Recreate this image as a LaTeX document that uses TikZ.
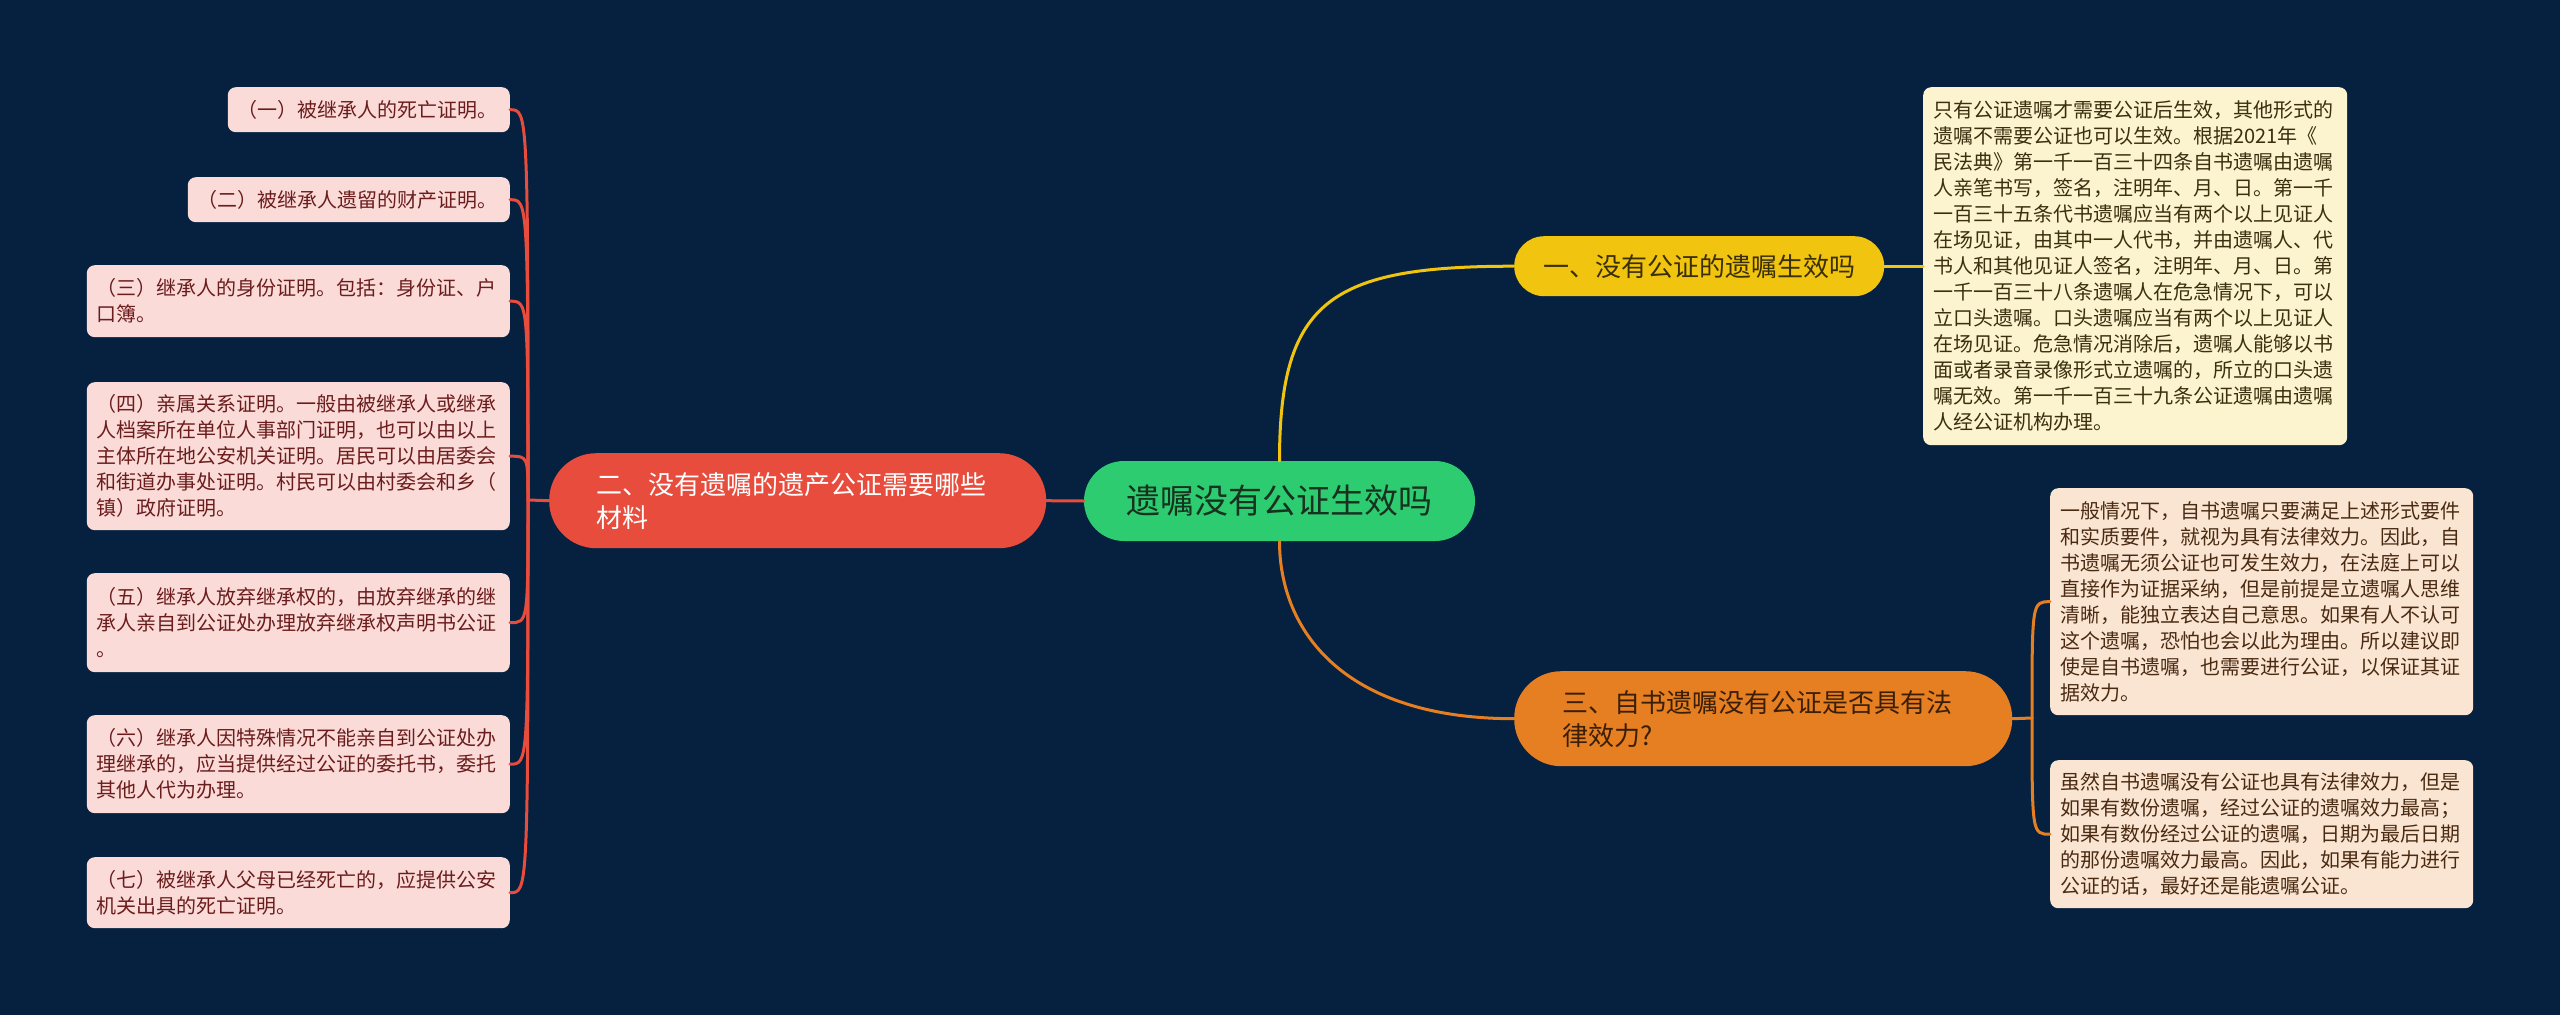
\documentclass[tikz,border=0pt]{standalone}
\usepackage{fontspec}
\setmainfont{Noto Sans CJK SC}
\definecolor{bg}{HTML}{05213F}
\definecolor{cgreen}{HTML}{2ECC71}
\definecolor{cred}{HTML}{E74C3C}
\definecolor{cyel}{HTML}{F1C40F}
\definecolor{corg}{HTML}{E67E22}
\definecolor{cpink}{HTML}{FADBD8}
\definecolor{ccream}{HTML}{FCF3CF}
\definecolor{cpeach}{HTML}{FAE5D3}
\definecolor{tgreen}{HTML}{17321F}
\definecolor{tyel}{HTML}{3B2F05}
\definecolor{torg}{HTML}{3B1F05}
\definecolor{tpink}{HTML}{6B1D1D}
\definecolor{tcream}{HTML}{3A3010}
\definecolor{tpeach}{HTML}{4A2B12}
\begin{document}
\begin{tikzpicture}[x=1pt,y=-1pt,
  rootbox/.style={fill=cgreen, text=tgreen, rounded corners=40pt, minimum width=391pt, minimum height=80pt, inner sep=0pt, font=\fontsize{34}{40}\selectfont},
  mainbox/.style={inner ysep=0pt, align=left, anchor=north west, font=\fontsize{26}{33}\selectfont},
  leafbox/.style={rounded corners=8pt, inner xsep=10pt, inner ysep=0pt, align=left, font=\fontsize{20}{26}\selectfont},
  pinkleaf/.style={leafbox, fill=cpink, text=tpink, anchor=north east},
  creamleaf/.style={leafbox, fill=ccream, text=tcream, anchor=north west},
  peachleaf/.style={leafbox, fill=cpeach, text=tpeach, anchor=north west},
  conn/.style={line width=3pt, line cap=round}
]
\fill[bg] (0,0) rectangle (2560,1015);
\useasboundingbox (0,0) rectangle (2560,1015);

% central node
\node[rootbox] (root) at (1279.5,501) {遗嘱没有公证生效吗};

% main branches
\node[mainbox, fill=cred, text=white, rounded corners=47pt, text width=403pt, inner xsep=47pt, minimum height=95pt] (b2) at (549,453) {二、没有遗嘱的遗产公证需要哪些\\材料};
\node[mainbox, fill=cyel, text=tyel, rounded corners=30pt, minimum width=370pt, minimum height=60pt, inner xsep=0pt, align=center] (b1) at (1514,236) {一、没有公证的遗嘱生效吗};
\node[mainbox, fill=corg, text=torg, rounded corners=47pt, text width=402pt, inner xsep=48pt, minimum height=95pt] (b3) at (1514,671) {三、自书遗嘱没有公证是否具有法\\律效力?};

% right leaves
\node[creamleaf, text width=404pt, minimum height=358pt] (c1) at (1923,87) {只有公证遗嘱才需要公证后生效，其他形式的\\遗嘱不需要公证也可以生效。根据2021年《\\民法典》第一千一百三十四条自书遗嘱由遗嘱\\人亲笔书写，签名，注明年、月、日。第一千\\一百三十五条代书遗嘱应当有两个以上见证人\\在场见证，由其中一人代书，并由遗嘱人、代\\书人和其他见证人签名，注明年、月、日。第\\一千一百三十八条遗嘱人在危急情况下，可以\\立口头遗嘱。口头遗嘱应当有两个以上见证人\\在场见证。危急情况消除后，遗嘱人能够以书\\面或者录音录像形式立遗嘱的，所立的口头遗\\嘱无效。第一千一百三十九条公证遗嘱由遗嘱\\人经公证机构办理。};
\node[peachleaf, text width=403pt, minimum height=227pt] (p1) at (2050,488) {一般情况下，自书遗嘱只要满足上述形式要件\\和实质要件，就视为具有法律效力。因此，自\\书遗嘱无须公证也可发生效力，在法庭上可以\\直接作为证据采纳，但是前提是立遗嘱人思维\\清晰，能独立表达自己意思。如果有人不认可\\这个遗嘱，恐怕也会以此为理由。所以建议即\\使是自书遗嘱，也需要进行公证，以保证其证\\据效力。};
\node[peachleaf, text width=403pt, minimum height=148pt] (p2) at (2050,760) {虽然自书遗嘱没有公证也具有法律效力，但是\\如果有数份遗嘱，经过公证的遗嘱效力最高；\\如果有数份经过公证的遗嘱，日期为最后日期\\的那份遗嘱效力最高。因此，如果有能力进行\\公证的话，最好还是能遗嘱公证。};

% left leaves
\node[pinkleaf, text width=262pt, minimum height=45pt] (l1) at (510,87) {（一）被继承人的死亡证明。};
\node[pinkleaf, text width=302pt, minimum height=45pt] (l2) at (510,177) {（二）被继承人遗留的财产证明。};
\node[pinkleaf, text width=403pt, minimum height=72pt] (l3) at (510,265) {（三）继承人的身份证明。包括：身份证、户\\口簿。};
\node[pinkleaf, text width=403pt, minimum height=148pt] (l4) at (510,382) {（四）亲属关系证明。一般由被继承人或继承\\人档案所在单位人事部门证明，也可以由以上\\主体所在地公安机关证明。居民可以由居委会\\和街道办事处证明。村民可以由村委会和乡（\\镇）政府证明。};
\node[pinkleaf, text width=403pt, minimum height=99pt] (l5) at (510,573) {（五）继承人放弃继承权的，由放弃继承的继\\承人亲自到公证处办理放弃继承权声明书公证\\。};
\node[pinkleaf, text width=403pt, minimum height=98pt] (l6) at (510,715) {（六）继承人因特殊情况不能亲自到公证处办\\理继承的，应当提供经过公证的委托书，委托\\其他人代为办理。};
\node[pinkleaf, text width=403pt, minimum height=71pt] (l7) at (510,857) {（七）被继承人父母已经死亡的，应提供公安\\机关出具的死亡证明。};

% joints
\coordinate (lj) at (528,500);
\coordinate (rj) at (2032,718);

% connectors
\draw[conn, cred] (root.west) -- (b2.east);
\draw[conn, cyel] (root.north) .. controls +(0,-160) and +(-184,0) .. (b1.west);
\draw[conn, corg] (root.south) .. controls +(0,90) and +(-170,0) .. (b3.west);
\draw[conn, cyel] (b1.east) -- (c1.west);
\draw[conn, corg] (b3.east) -- (rj);
\draw[conn, corg] (rj) .. controls (rj |- p1.west) .. (p1.west);
\draw[conn, corg] (rj) .. controls (rj |- p2.west) .. (p2.west);
\draw[conn, cred] (b2.west) -- (lj);
\foreach \l in {l1,l2,l3,l4,l5,l6,l7}{
  \draw[conn, cred] (lj) .. controls (lj |- \l.east) .. (\l.east);
}
\end{tikzpicture}
\end{document}
